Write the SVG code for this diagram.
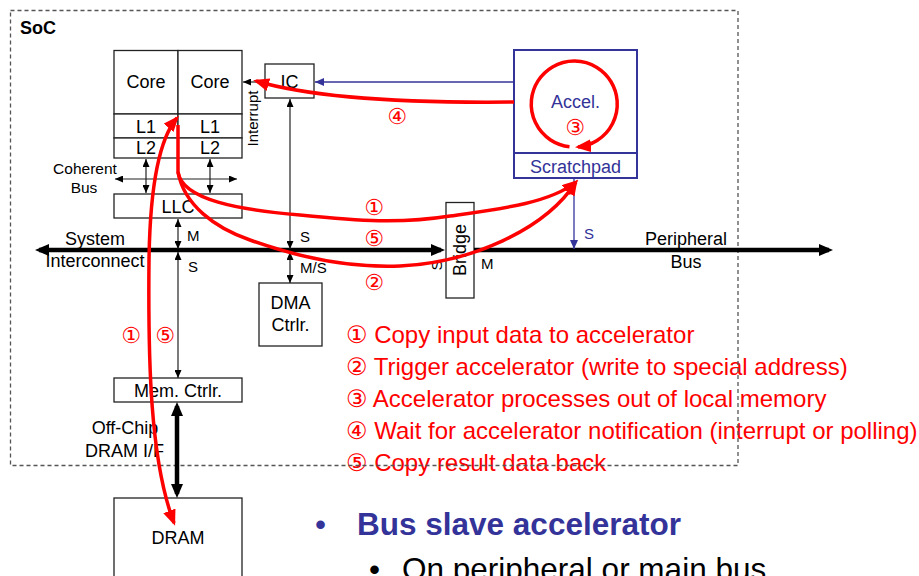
<svg xmlns="http://www.w3.org/2000/svg" width="919" height="576" viewBox="0 0 919 576">
<style>
text{font-family:"Liberation Sans","DejaVu Sans",Arial,sans-serif;fill:#000}
.box{fill:#fff;stroke:#222;stroke-width:1.3}
.bbox{fill:#fff;stroke:#333399;stroke-width:2}
.t18{font-size:18px;text-anchor:middle}
.t15{font-size:15px}
.blue{fill:#333399}
.red{fill:#ff0000}
.thin{fill:none;stroke:#222;stroke-width:1.2}
.thick{fill:none;stroke:#000;stroke-width:4.5}
.bl{fill:none;stroke:#333399;stroke-width:1.3}
.rd{fill:none;stroke:#ff0000;stroke-width:3.5}
.leg{font-size:24px;fill:#ff0000}
.num{font-size:22px;fill:#ff0000;text-anchor:middle}
</style>
<defs>
<marker id="ab" viewBox="0 0 8 7" refX="8" refY="3.5" markerWidth="8" markerHeight="7" markerUnits="userSpaceOnUse" orient="auto-start-reverse"><path d="M0,0 L8,3.5 L0,7 z" fill="#000"/></marker>
<marker id="abl" viewBox="0 0 9 8" refX="9" refY="4" markerWidth="9" markerHeight="8" markerUnits="userSpaceOnUse" orient="auto-start-reverse"><path d="M0,0 L9,4 L0,8 z" fill="#333399"/></marker>
<marker id="ak" viewBox="0 0 14 12" refX="10" refY="6" markerWidth="14" markerHeight="12" markerUnits="userSpaceOnUse" orient="auto-start-reverse"><path d="M0,0 L14,6 L0,12 z" fill="#000"/></marker>
<marker id="ar" viewBox="0 0 16 13" refX="13" refY="6.5" markerWidth="16" markerHeight="13" markerUnits="userSpaceOnUse" orient="auto-start-reverse"><path d="M0,0 L16,6.5 L0,13 z" fill="#ff0000"/></marker>
</defs>

<g id="cpu">
<rect class="box" x="114" y="50.5" width="64" height="63.5"/>
<rect class="box" x="178" y="50.5" width="64" height="63.5"/>
<rect class="box" x="114" y="114" width="64" height="24"/>
<rect class="box" x="178" y="114" width="64" height="24"/>
<rect class="box" x="114" y="138" width="64" height="20"/>
<rect class="box" x="178" y="138" width="64" height="20"/>
<text class="t18" x="146" y="88">Core</text>
<text class="t18" x="210" y="88">Core</text>
<text class="t18" x="146" y="133">L1</text>
<text class="t18" x="210" y="133">L1</text>
<text class="t18" x="146" y="154">L2</text>
<text class="t18" x="210" y="154">L2</text>
<text class="t15" transform="translate(258,118.5) rotate(-90)" text-anchor="middle">Interrupt</text>
</g>
<g id="coherent-bus-label">
<text font-size="15.5" text-anchor="middle" x="85" y="174">Coherent</text>
<text font-size="15.5" text-anchor="middle" x="84" y="193">Bus</text>
</g>
<g id="llc"><rect class="box" x="114" y="194" width="128" height="24"/><text class="t18" x="178" y="213">LLC</text></g>
<g id="ic"><rect class="box" x="265" y="64" width="49" height="34"/><text class="t18" x="289.5" y="88">IC</text></g>
<g id="accel">
<rect class="bbox" x="514" y="50" width="123" height="103"/>
<rect class="bbox" x="514" y="153" width="123" height="25"/>
<text class="t18 blue" x="575.5" y="108">Accel.</text>
<text class="t18 blue" x="575.5" y="173">Scratchpad</text>
</g>
<g id="dma"><rect class="box" x="259" y="283" width="63" height="63"/><text class="t18" x="290.5" y="309">DMA</text><text class="t18" x="290.5" y="331">Ctrlr.</text></g>
<g id="bridge"><rect class="box" x="446" y="202.5" width="28" height="95.5"/><text class="t18" transform="translate(466,250) rotate(-90)">Bridge</text></g>
<g id="memctrl"><rect class="box" x="114" y="378" width="128" height="24"/><text class="t18" x="178" y="397">Mem. Ctrlr.</text></g>
<g id="dram"><rect class="box" x="114" y="498" width="128" height="90"/><text class="t18" x="178" y="544">DRAM</text></g>
<g id="bus-labels">
<text class="t18" x="95" y="245">System</text>
<text class="t18" x="95" y="267">Interconnect</text>
<text class="t18" x="686" y="245">Peripheral</text>
<text class="t18" x="686" y="268">Bus</text>
<text class="t18" x="125" y="434">Off-Chip</text>
<text class="t18" x="124.5" y="457">DRAM I/F</text>
<text class="t15" x="187" y="241">M</text>
<text class="t15" x="188" y="272">S</text>
<text class="t15" x="300" y="242">S</text>
<text class="t15" x="300" y="273">M/S</text>
<text class="t15" transform="translate(442,265.5) rotate(-90)" text-anchor="middle">S</text>
<text class="t15" x="481" y="269">M</text>
<text class="t15 blue" x="584" y="239">S</text>
</g>

<g id="legend">
<text class="leg" x="346" y="343">① Copy input data to accelerator</text>
<text class="leg" x="346" y="375">② Trigger accelerator (write to special address)</text>
<text class="leg" x="346" y="407">③ Accelerator processes out of local memory</text>
<text class="leg" x="346" y="439">④ Wait for accelerator notification (interrupt or polling)</text>
<text class="leg" x="346" y="471">⑤ Copy result data back</text>
</g>

<g id="soc">
<rect x="10.5" y="10.5" width="727.5" height="455" fill="none" stroke="#555" stroke-width="1.3" stroke-dasharray="4 3"/>
<text x="20" y="34" font-size="18" font-weight="bold">SoC</text>
</g>

<g id="bullets">
<text x="315" y="535" font-size="31.5" class="blue">•</text>
<text x="357" y="535" font-size="31.5" font-weight="bold" class="blue">Bus slave accelerator</text>
<text x="369" y="580" font-size="31.5">•</text>
<text x="402" y="580" font-size="31.5">On peripheral or main bus</text>
</g>

<g id="connectors">
<path class="thick" d="M39,250 L441,250" marker-start="url(#ak)" marker-end="url(#ak)"/>
<path class="thick" d="M474,250 L829,250" marker-end="url(#ak)"/>
<path class="thick" d="M177,406 L177,494" marker-start="url(#ak)" marker-end="url(#ak)"/>
<path class="thin" d="M265,82 L243,82" marker-end="url(#ab)"/>
<path class="bl" d="M514,82 L315,82" marker-end="url(#abl)"/>
<path class="thin" d="M290,99 L290,249" marker-start="url(#ab)" marker-end="url(#ab)"/>
<path class="thin" d="M290,252 L290,283" marker-start="url(#ab)" marker-end="url(#ab)"/>
<path class="thin" d="M178,219 L178,249" marker-start="url(#ab)" marker-end="url(#ab)"/>
<path class="thin" d="M178,252 L178,378" marker-start="url(#ab)" marker-end="url(#ab)"/>
<path class="thin" d="M146,159 L146,193" marker-start="url(#ab)" marker-end="url(#ab)"/>
<path class="thin" d="M210,159 L210,193" marker-start="url(#ab)" marker-end="url(#ab)"/>
<path class="thin" d="M115,179 L237,179" marker-start="url(#ab)" marker-end="url(#ab)"/>
<path class="bl" d="M574,178 L574,249" marker-end="url(#abl)"/>
</g>

<g id="red-flows">
<path class="rd" d="M177,118 C158,140 150,190 149,260 C148,360 150,460 174,523" marker-start="url(#ar)" marker-end="url(#ar)"/>
<path class="rd" d="M178,125 L178,172 C182,200 240,210 300,215 C360,221 400,224 450,216 C500,209 550,203 576,182" marker-end="url(#ar)"/>
<path class="rd" d="M178,172 C184,205 215,228 250,240 C300,258 350,268 400,266 C470,263 545,230 576,182" marker-end="url(#ar)"/>
<path class="rd" d="M514,102 C420,103 320,100 256,81" marker-end="url(#ar)"/>
<path class="rd" d="M569.5,146.8 A43,43 0 1 1 578,146.9" marker-end="url(#ar)"/>
<text class="num" x="397" y="124">④</text>
<text class="num" x="575" y="135">③</text>
<text class="num" x="374" y="215">①</text>
<text class="num" x="374" y="246">⑤</text>
<text class="num" x="374" y="290">②</text>
<text class="num" x="131" y="343">①</text>
<text class="num" x="165" y="343">⑤</text>
</g>
</svg>
